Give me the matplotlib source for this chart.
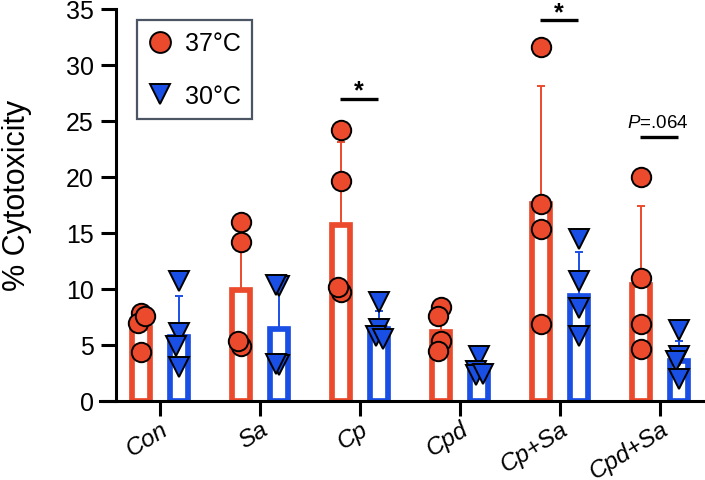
import matplotlib
matplotlib.use("Agg")
import matplotlib.pyplot as plt
from matplotlib.lines import Line2D
from matplotlib.transforms import ScaledTranslation
import numpy as np

plt.rcParams['font.family'] = ['Liberation Sans', 'DejaVu Sans']
plt.rcParams['mathtext.fontset'] = 'custom'
plt.rcParams['mathtext.it'] = 'Liberation Sans:italic'
plt.rcParams['mathtext.rm'] = 'Liberation Sans'


groups = ['Con', 'Sa', 'Cp', 'Cpd', 'Cp+Sa', 'Cpd+Sa']

red_mean = [6.5, 9.9, 15.7, 6.2, 17.6, 10.4]
red_sd = [1.6, 6.0, 7.4, 1.6, 10.5, 7.0]
blue_mean = [5.7, 6.4, 6.4, 2.6, 9.4, 3.6]
blue_sd = [3.7, 4.0, 1.6, 0.8, 3.9, 1.8]

red_points = [
    [7.9, 7.0, 7.6, 4.4],
    [16.0, 14.2, 4.9, 5.4],
    [24.2, 19.6, 9.7, 10.2],
    [8.4, 7.6, 5.4, 4.5],
    [31.6, 17.6, 15.4, 6.9],
    [20.0, 11.0, 6.9, 4.6],
]
blue_points = [
    [10.7, 6.1, 4.9, 3.0],
    [10.3, 10.4, 3.2, 3.3],
    [8.8, 6.4, 5.8, 5.5],
    [4.0, 2.7, 2.3, 2.4],
    [14.5, 10.7, 8.3, 5.8],
    [6.3, 4.0, 3.6, 2.0],
]

# significance marks: group index, line height, label
sig_groups = [2, 4, 5]
sig_heights = [27.0, 34.0, 23.6]
sig_labels = ['*', '*', r'$P$=.064']

RED = '#EB4A2C'
BLUE = '#1A4FE6'


def spread(vals, step=0.035, near=1.4):
    # nudge points sideways when they sit close in value
    offs, placed = [], []
    for v in vals:
        n = sum(1 for p in placed if abs(p - v) < near)
        if n == 0:
            offs.append(0.0)
        else:
            sign = -1 if n % 2 else 1
            offs.append(sign * step * ((n + 1) // 2))
        placed.append(v)
    return offs


fig = plt.figure(figsize=(7.05, 4.81), dpi=100)
ax = fig.add_axes([100 / 705, 79 / 481, 605 / 705, 392 / 481])

x = np.arange(len(groups))
off = 0.19
bw = 0.185

for xs, means, sds, pts, col, mk, ms in [
    (x - off, red_mean, red_sd, red_points, RED, 'o', 14),
    (x + off, blue_mean, blue_sd, blue_points, BLUE, 'v', 14.5),
]:
    ax.bar(xs, means, width=bw, facecolor='none', edgecolor=col,
           linewidth=4.1, zorder=2)
    ax.errorbar(xs, means, yerr=[np.zeros(len(means)), sds], fmt='none',
                ecolor=col, elinewidth=1.4, capsize=2.9, capthick=1.4,
                zorder=3)
    for xi, vals in zip(xs, pts):
        jit = spread(vals)
        ax.plot(xi + np.array(jit), vals, ls='none', marker=mk, ms=ms,
                mfc=col, mec='black', mew=1.4, zorder=4, clip_on=False)

for g, h, lab in zip(sig_groups, sig_heights, sig_labels):
    c = g - 0.01
    ax.plot([c - 0.19, c + 0.19], [h, h], color='black', lw=2.4,
            solid_capstyle='butt', zorder=5, clip_on=False)
    if lab == '*':
        ax.text(c, h + 0.1, lab, ha='center', va='baseline',
                fontsize=18, fontweight='bold')
    else:
        ax.text(g - 0.02, h + 0.85, lab, ha='center', va='baseline',
                fontsize=13.5)

ax.set_xlim(-0.6, 5.45)
ax.set_ylim(0, 35)
ax.set_yticks(range(0, 36, 5))
ax.set_xticks(x)
ax.set_xticklabels(groups, rotation=32, ha='right', rotation_mode='anchor',
                   style='italic', fontsize=17.5)
shift = ScaledTranslation(8 / 100, 0, fig.dpi_scale_trans)
for lbl in ax.get_xticklabels():
    lbl.set_transform(lbl.get_transform() + shift)
ax.tick_params(axis='y', labelsize=18, width=2.2, length=11, pad=5)
ax.tick_params(axis='x', width=2.2, length=11, pad=0.5)

for s in ['top', 'right']:
    ax.spines[s].set_visible(False)
for s in ['left', 'bottom']:
    ax.spines[s].set_linewidth(2.2)
    ax.spines[s].set_zorder(6)
ax.spines['left'].set_position(('data', -0.44))

ax.set_ylabel('% Cytotoxicity', fontsize=22)
ax.yaxis.set_label_coords(-0.112, 0.528)

handles = [
    Line2D([], [], ls='none', marker='o', ms=15, mfc=RED, mec='black', mew=1.4),
    Line2D([], [], ls='none', marker='v', ms=15, mfc=BLUE, mec='black', mew=1.4),
]
leg = ax.legend(handles, ['37°C', '30°C'], loc='upper left',
                bbox_to_anchor=(137 / 705, 1 - 21 / 481),
                bbox_transform=fig.transFigure, borderaxespad=0,
                fontsize=18, frameon=True, fancybox=False,
                handlelength=0.9, handletextpad=0.55, labelspacing=1.15,
                borderpad=0.45)
leg.get_frame().set_edgecolor('#1E2B3C')
leg.get_frame().set_linewidth(1.6)

fig.savefig('out.png', dpi=100)
